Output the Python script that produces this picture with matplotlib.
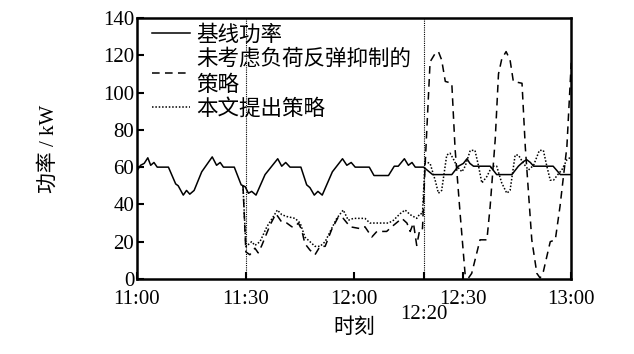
import matplotlib
matplotlib.use("Agg")
import matplotlib.pyplot as plt
import matplotlib.transforms as mtransforms

plt.rcParams['font.family'] = ['Liberation Serif', 'Noto Sans CJK SC']
plt.rcParams['axes.unicode_minus'] = False

# minutes after 11:00, values in kW
base_t = [0, 1, 2, 3, 3.8, 4.7, 5.6, 8.7, 10.7, 11.4, 12.8, 13.7, 14.6, 15.8, 17.9,
          20.8, 22, 23, 23.9, 26.9, 28.8, 29.9, 30.8, 31.7, 32.9, 35.4, 38.9, 40,
          41.1, 42.3, 45.3, 46.9, 47.8, 49, 50, 51.2, 54, 56.8, 58, 59.2, 60.3,
          64.2, 65.5, 69.5, 71.1, 72.2, 73.9, 75, 76, 76.9, 79.2, 81.7, 87, 88.8,
          90.2, 91.2, 92, 93, 97.6, 99.4, 103.6, 105.4, 106.8, 107.7, 108.7, 109.6,
          115, 117, 120]
base_p = [58, 61, 62, 65, 61, 62.5, 60, 60, 51, 50, 45, 47.5, 45.5, 47.5, 57.5,
          65.5, 61, 62.5, 60, 60, 50.5, 49.5, 46, 47, 45, 56, 64.5, 60.5,
          62.5, 60, 60, 50.5, 49, 45, 47, 45, 57.5, 64.5, 61, 62.5, 60,
          60, 55.5, 55.5, 60.5, 60.5, 64.5, 61, 62.5, 60, 60, 56, 56, 60.5,
          62, 64.5, 62, 60.5, 60.5, 56, 56, 60.5, 63, 64, 62.5, 60.5,
          60.5, 56, 56]

# strategy without rebound suppression
old_t = [29.3, 30.1, 31.2, 32.6, 33.5, 34.5, 36.8, 38.4, 39.3, 40, 41.4, 42.8, 43.7,
         44.6, 45.5, 46.4, 47.8, 49.2, 50.6, 52, 53.8, 55.7, 57, 58.9, 61.7, 63,
         64.9, 66.3, 69, 70.4, 73.2, 74.6, 75.5, 76.4, 77.3, 78.2, 78.9, 79.6, 81,
         82.4, 83.3, 84.2, 85.2, 87, 87.9, 89.3, 90.7, 91.6, 92.5, 94.8, 96.7, 97.6,
         99, 99.9, 100.8, 102, 103.1, 104, 106.4, 107.3, 109.1, 110.5, 111.4, 112.3,
         114.2, 115.6, 116.9, 118.8, 120]
old_p = [50, 14.5, 13, 16.5, 14, 18, 29, 35, 32.5, 30.5, 30, 28, 28,
         30, 26.5, 19, 15.5, 13, 17.5, 17.5, 26.5, 33.5, 32.5, 28, 27, 28,
         22.5, 25.5, 25.5, 28, 32.5, 30, 25.5, 30, 18, 27, 27, 60, 116.5,
         121, 122, 117.5, 106, 105, 70, 35, 2, 0.5, 3, 21, 21, 39,
         75, 110, 118, 122, 117.5, 106, 105, 71, 21, 3, 0.5, 4,
         20, 21, 39, 71, 116]

# proposed strategy
new_t = [29.3, 30.1, 31.7, 32.6, 34, 35.9, 37.7, 38.8, 40, 41.4, 43.7, 45.1, 46.4,
         47.8, 49.2, 50.6, 52, 53.4, 55.2, 57, 58.4, 59.8, 63, 64.4, 69.5, 70.9,
         72.7, 74.1, 75.5, 77.3, 78.2, 78.9, 79.6, 81, 82.4, 83.3, 84.2, 85.6, 86.5,
         87.4, 88.4, 89.8, 90.7, 92.1, 93.4, 94.4, 95.3, 96.7, 98.1, 99.4, 100.8,
         102.2, 103.1, 104.5, 105.4, 106.8, 108.2, 109.6, 111.2, 112.3, 113.2,
         114.2, 115.1, 116.5, 117.4, 118.8, 120]
new_p = [50, 17.3, 20, 18, 20, 28, 33.5, 37, 34.5, 33.5, 32.5, 30, 22.5,
         20, 17.5, 17.5, 20, 25.5, 32.5, 37, 31.5, 32.5, 32.5, 30, 30, 31.5,
         35, 37, 34.5, 32.5, 35, 35, 63, 62, 53, 46, 47.5, 66.5, 67.5,
         64.5, 60.5, 57.5, 60.5, 69, 69, 60.5, 51.5, 55, 60.5, 60.5, 51.5,
         46, 47.5, 66.5, 66.5, 62, 58.5, 61, 69, 69, 61,
         53, 53, 56.5, 58.5, 64, 65.5]

tick_pos = [0, 30, 60, 90, 120]
tick_lab = ["11:00", "11:30", "12:00", "12:30", "13:00"]
marks = [30, 79.3]

fig = plt.figure(figsize=(6.34, 3.54), dpi=100)
ax = fig.add_axes([0.216, 0.212, 0.685, 0.737])

for m in marks:
    ax.axvline(m, color='black', lw=0.8, ls=(0, (1, 1)))

ax.plot(old_t, old_p, color='black', lw=1.1, ls=(0, (5, 3.5)),
        label="未考虑负荷反弹抑制的\n策略")
ax.plot(new_t, new_p, color='black', lw=1.1, ls=(0, (1, 1.2)),
        label="本文提出策略")
ax.plot(base_t, base_p, color='black', lw=1.1, label="基线功率")

h, l = ax.get_legend_handles_labels()
order = [2, 0, 1]
ax.legend([h[i] for i in order], [l[i] for i in order], loc='upper left',
          frameon=False, prop={'family': ['Noto Sans CJK SC'], 'size': 15.5},
          handlelength=1.75, handletextpad=0.3, labelspacing=0.1,
          borderaxespad=0.3, bbox_to_anchor=(0.0, 1.035))

ax.set_xlim(0, 120)
ax.set_ylim(0, 140)
ax.set_xticks(tick_pos + [79.3])
ax.set_xticklabels(tick_lab + [""])
ax.set_yticks(range(0, 141, 20))
ax.tick_params(direction='in', length=5, width=1.5, labelsize=15)
ax.tick_params(axis='x', pad=8)
ax.tick_params(axis='y', pad=2)
for s in ax.spines.values():
    s.set_linewidth(1.8)

trans = mtransforms.blended_transform_factory(ax.transData, ax.transAxes)
ax.text(79.3, -0.1, "12:20", transform=trans, ha='center', va='top', fontsize=15)

ax.set_xlabel("时刻", fontsize=15, labelpad=7)
ax.set_ylabel("功率 / kW", fontsize=15, labelpad=32)

fig.savefig("out.png", dpi=100)
